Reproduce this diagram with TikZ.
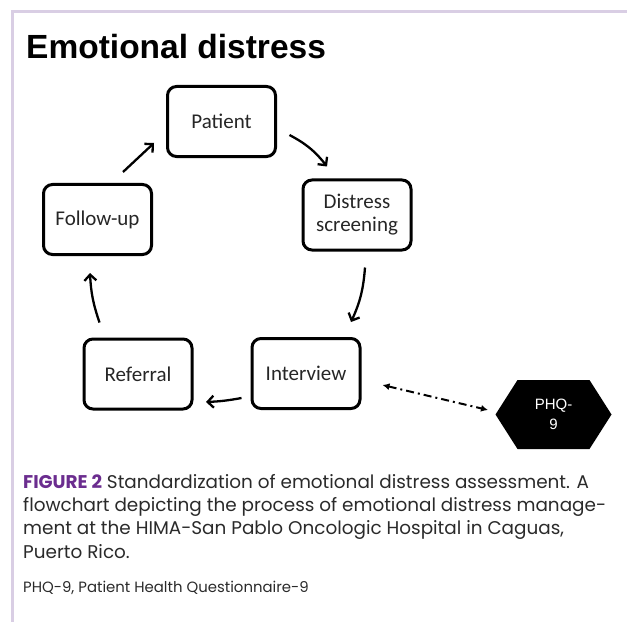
\documentclass[tikz,border=0pt]{standalone}
\usepackage{fontspec}
\usetikzlibrary{arrows.meta,calc}
\newfontfamily\titlefont{Liberation Sans}
\newfontfamily\boxfont{Carlito}
\newfontfamily\capfont{Poppins}
\newfontfamily\phqfont{Liberation Sans}
\definecolor{figpurple}{HTML}{6B2D8F}
\definecolor{framecol}{HTML}{D9CEE4}
\definecolor{captext}{HTML}{2A2A2A}
\begin{document}
\begin{tikzpicture}[x=1bp,y=-1bp,
  stepbox/.style={draw=black, line width=3bp, rounded corners=9bp, minimum width=108bp, minimum height=70bp, inner sep=0pt, align=center, text=black!85, font=\boxfont\fontsize{21bp}{23bp}\selectfont},
  flow/.style={line width=2.3bp, -{Straight Barb[length=6bp,width=12bp,line width=2.3bp]}},
  dashflow/.style={line width=2bp, dash pattern=on 8bp off 4bp on 2bp off 4bp, {Latex[length=7bp,width=7bp]}-{Latex[length=7bp,width=7bp]}},
  captxt/.style={anchor=base west, inner sep=0pt, text=captext, font=\capfont\fontsize{18.4bp}{23bp}\selectfont},
  foottxt/.style={anchor=base west, inner sep=0pt, text=captext, font=\capfont\fontsize{14.9bp}{16bp}\selectfont}
]
\useasboundingbox (0,0) rectangle (627,622);
\draw[framecol, line width=3bp] (12,622) -- (12,11.5) -- (627,11.5);

\node[anchor=base west, inner sep=0pt, font=\titlefont\bfseries\fontsize{33.5bp}{40bp}\selectfont] (title) at (26,59) {Emotional distress};

\node[stepbox] (pat) at (221.5,121.5) {Patient};
\node[stepbox] (dis) at (357,215) {Distress\\screening};
\node[stepbox] (fol) at (97.5,219.5) {Follow-up};
\node[stepbox] (ref) at (138,374) {Referral};
\node[stepbox] (int) at (306,373.5) {Interview};

\coordinate (phqc) at (553.5,414.5);
\fill[black] ($(phqc)+(-58,0)$) -- ($(phqc)+(-36,-34.5)$) -- ($(phqc)+(36,-34.5)$) -- ($(phqc)+(58,0)$) -- ($(phqc)+(36,34.5)$) -- ($(phqc)+(-36,34.5)$) -- cycle;
\node[text=white, align=center, inner sep=0pt, font=\phqfont\fontsize{15bp}{20bp}\selectfont] (phq) at (phqc) {PHQ-\\9};

\draw[flow] ($(pat.east)+(12.5,13.5)$) to[bend left=12] ($(dis.north)+(-30,-12)$);
\draw[flow] ($(dis.south)+(8,16)$) to[bend left=10] ($(int.north)+(45,-15)$);
\draw[flow] ($(int.west)+(-9,24.5)$) to[bend left=4] ($(ref.east)+(12.5,28)$);
\draw[flow] ($(ref.north)+(-38.5,-15)$) to[bend left=8] ($(fol.south)+(-7.5,17)$);
\draw[flow] ($(fol.north)+(25.5,-11)$) -- ($(pat.west)+(-12,21.5)$);
\draw[dashflow] ($(int.east)+(21,11.5)$) -- ($(phqc)+(-65.5,-4.5)$);

\node[captxt] (cap1) at (23,488) {{\bfseries\color{figpurple}FIGURE 2} Standardization of emotional distress assessment. A};
\node[captxt] (cap2) at (23,511.3) {flowchart depicting the process of emotional distress manage-};
\node[captxt] (cap3) at (23,534.6) {ment at the HIMA-San Pablo Oncologic Hospital in Caguas,};
\node[captxt] (cap4) at (23,558) {Puerto Rico.};
\node[foottxt] (foot) at (23,592.7) {PHQ-9, Patient Health Questionnaire-9};
\end{tikzpicture}
\end{document}
